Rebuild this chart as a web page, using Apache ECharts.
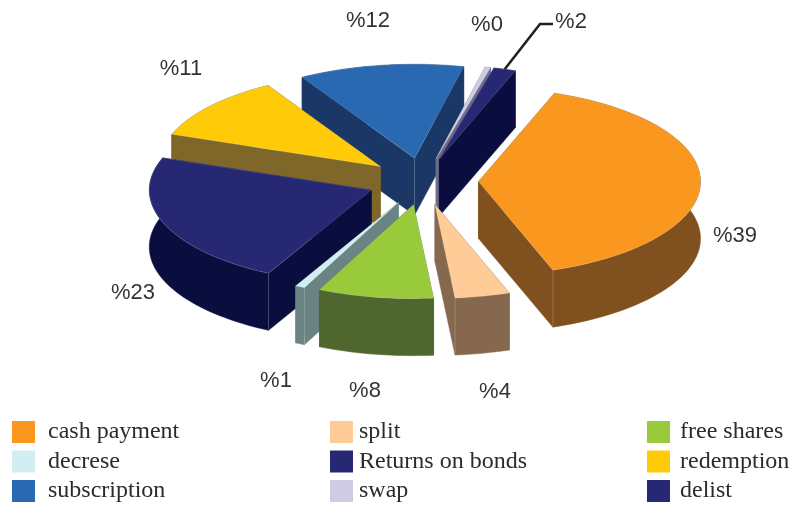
<!DOCTYPE html>
<html>
<head>
<meta charset="utf-8">
<style>
  html, body { margin: 0; padding: 0; background: #fff; }
  #chart { width: 794px; height: 505px; }
</style>
<script src="https://cdn.jsdelivr.net/npm/echarts@6/dist/echarts.min.js"></script>
</head>
<body>
<div id="chart"></div>
<script>
// clockwise from the first slice
const categories = ['cash payment', 'split', 'free shares', 'decrese', 'Returns on bonds', 'redemption', 'subscription', 'swap', 'delist'];
const shares = [39, 4, 8.4, 0.7, 22.9, 11, 12, 0.4, 1.6];

const topColors = ['#F9971E', '#FFCB96', '#99CA3C', '#D2EEF3', '#272873', '#FFCB08', '#2969B2', '#CFCBE5', '#272873'];
const sideColors = ['#80501F', '#85684E', '#4F662E', '#6A8483', '#0A0E3F', '#7F6729', '#1A3766', '#6E6C8A', '#0A0E3F'];
const labelSpots = [[735, 236], [495, 392], [365, 391], [276, 381], [133, 293], [181, 69], [368, 21], [487, 25], [571, 22]];

const legendColumns = [
  { left: 12, textGap: 8, names: ['cash payment', 'decrese', 'subscription'] },
  { left: 330, textGap: 1, names: ['split', 'Returns on bonds', 'swap'] },
  { left: 647, textGap: 5, names: ['free shares', 'redemption', 'delist'] },
];

// pie projection
const cx = 423, cy = 181.5, rx = 222, ry = 94, depth = 57;
const explode = 0.25, startAngle = 20;

const total = shares.reduce((a, b) => a + b, 0);
const rad = (d) => (d * Math.PI) / 180;

let running = startAngle;
const slices = shares.map((v, i) => {
  const from = running;
  const to = from + (v / total) * 360;
  running = to;
  return { i, from, to, mid: (from + to) / 2 };
});

function project(angle, r) {
  return [Math.sin(rad(angle)) * rx * r, -Math.cos(rad(angle)) * ry * r];
}

function buildSlice(s) {
  const off = project(s.mid, explode);
  const ax = cx + off[0], ay = cy + off[1];
  const rim = [];
  const steps = Math.max(2, Math.ceil((s.to - s.from) / 2));
  for (let k = 0; k <= steps; k++) {
    const p = project(s.from + ((s.to - s.from) * k) / steps, 1);
    rim.push([ax + p[0], ay + p[1]]);
  }
  const first = rim[0], last = rim[rim.length - 1];
  const down = (p) => [p[0], p[1] + depth];
  const side = { fill: sideColors[s.i], stroke: sideColors[s.i], lineWidth: 0.5 };
  const children = [];

  const addWall = (points) => children.push({ type: 'polygon', shape: { points }, style: side, silent: true });
  addWall([[ax, ay], first, down(first), [ax, ay + depth]]);
  addWall([[ax, ay], last, down(last), [ax, ay + depth]]);
  addWall(rim.concat(rim.map(down).reverse()));

  // thin light edges where two visible faces meet
  const startSeen = Math.sin(rad(s.from)) < 0;
  const endSeen = Math.sin(rad(s.to)) > 0;
  const edge = (p) => children.push({
    type: 'line',
    shape: { x1: p[0], y1: p[1], x2: p[0], y2: p[1] + depth },
    style: { stroke: 'rgba(255,255,255,0.2)', lineWidth: 1 },
    silent: true,
  });
  if (startSeen && endSeen) edge([ax, ay]);
  if (startSeen && Math.cos(rad(s.from)) < 0) edge(first);
  if (endSeen && Math.cos(rad(s.to)) < 0) edge(last);

  children.push({
    type: 'polygon',
    shape: { points: [[ax, ay]].concat(rim) },
    style: { fill: topColors[s.i], stroke: 'rgba(255,255,255,0.22)', lineWidth: 0.7 },
    silent: true,
  });

  children.push({
    type: 'text',
    style: {
      text: '%' + Math.round(shares[s.i]),
      x: labelSpots[s.i][0],
      y: labelSpots[s.i][1],
      align: 'center',
      verticalAlign: 'middle',
      fill: '#333',
      font: '22px "Liberation Sans", Arial, sans-serif',
    },
    silent: true,
  });

  // the delist label is pulled out with a leader line
  if (categories[s.i] === 'delist') {
    const m = project(s.mid, 1);
    children.push({
      type: 'polyline',
      shape: { points: [[ax + m[0], ay + m[1]], [540, 24], [553, 24]] },
      style: { stroke: '#222', lineWidth: 2.6, fill: 'none' },
      silent: true,
    });
  }
  return { type: 'group', children };
}

// back to front
const drawOrder = slices.slice().sort((a, b) => Math.cos(rad(b.mid)) - Math.cos(rad(a.mid)));

const chart = echarts.init(document.getElementById('chart'), null, { renderer: 'canvas' });
chart.setOption({
  backgroundColor: '#fff',
  animation: false,
  legend: legendColumns.map((col) => ({
    left: col.left,
    top: 419,
    height: 86,
    padding: 0,
    orient: 'vertical',
    icon: 'rect',
    itemWidth: 23,
    itemHeight: 22,
    itemGap: 3.5,
    selectedMode: false,
    data: col.names,
    textStyle: {
      color: '#2b2b2b',
      fontFamily: '"Liberation Serif", "Times New Roman", serif',
      fontSize: 24,
      lineHeight: 22,
      padding: [0, 0, 4, col.textGap],
    },
  })),
  series: drawOrder.map((s) => ({
    type: 'custom',
    name: categories[s.i],
    coordinateSystem: 'none',
    itemStyle: { color: topColors[s.i] },
    data: [[shares[s.i]]],
    renderItem: () => buildSlice(s),
  })),
});

window.addEventListener('resize', () => chart.resize());
</script>
</body>
</html>
